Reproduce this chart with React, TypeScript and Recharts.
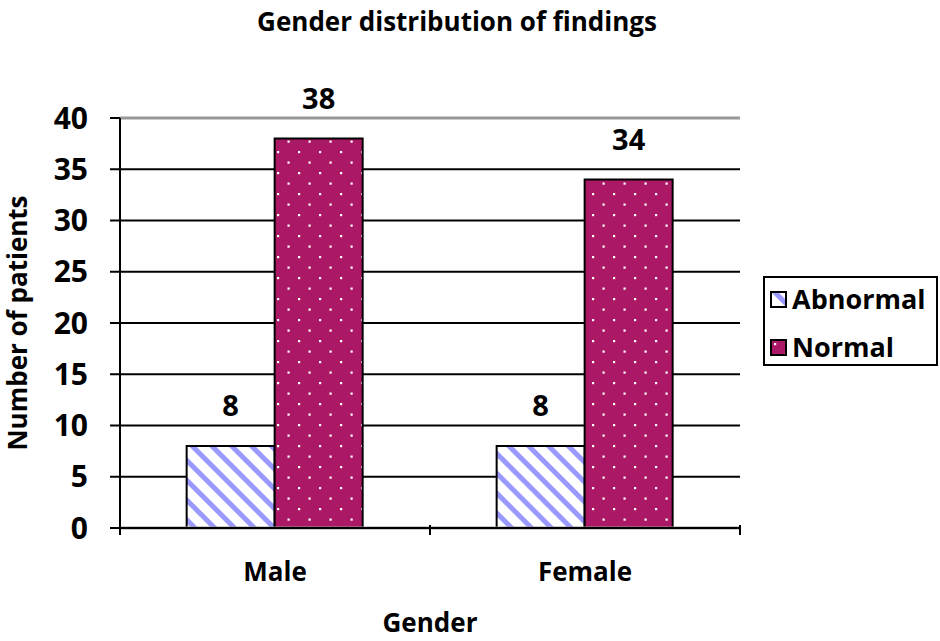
import { BarChart, Bar, XAxis, YAxis, CartesianGrid, LabelList, ReferenceLine } from 'recharts';

const genders = ['Male', 'Female'];
const abnormal = [8, 8];
const normal = [38, 34];
const yTicks = [0, 5, 10, 15, 20, 25, 30, 35, 40];

const data = genders.map((g, i) => ({ gender: g, Abnormal: abnormal[i], Normal: normal[i] }));

const FONT = '"Open Sans", sans-serif';
const PLUM = '#AB1866';
const LAVENDER = '#9999FF';

// category tick: label in the middle, tick marks on the band edges
function GenderTick(props: any) {
  const { x, y, payload } = props;
  const half = payload.offset ?? 0;
  return (
    <g>
      <line x1={x - half} x2={x - half} y1={y - 38} y2={y - 28} stroke="#000" strokeWidth={2} />
      <line x1={x + half} x2={x + half} y1={y - 38} y2={y - 28} stroke="#000" strokeWidth={2} />
      <text x={x} y={y} dy="0.71em" textAnchor="middle" fill="#000" fontSize={26} fontWeight={700} fontFamily={FONT}>
        {payload.value}
      </text>
    </g>
  );
}

function LegendBox() {
  const items = [
    { name: 'Abnormal', fill: 'url(#stripes)' },
    { name: 'Normal', fill: 'url(#dots)' },
  ];
  return (
    <div style={{ position: 'absolute', left: 763, top: 276, border: '2px solid #000', width: 175, height: 90, boxSizing: 'border-box', background: '#fff', fontFamily: FONT, fontWeight: 700, fontSize: 27 }}>
      {items.map((it, i) => (
        <div key={it.name} style={{ position: 'absolute', left: 5, top: i * 48 + 1, display: 'flex', alignItems: 'center', height: 40, lineHeight: '40px' }}>
          <svg width={17} height={17} style={{ marginRight: 5 }}>
            <rect x={1} y={1} width={15} height={15} fill={it.fill} stroke="#000" strokeWidth={2} />
          </svg>
          <span>{it.name}</span>
        </div>
      ))}
    </div>
  );
}

export default function App() {
  return (
    <div style={{ position: 'absolute', left: 0, top: 0, width: 940, height: 641, background: '#fff' }}>
      <div style={{ position: 'absolute', left: 0, width: 914, top: 3, textAlign: 'center', fontFamily: FONT, fontWeight: 700, fontSize: 26 }}>
        Gender distribution of findings
      </div>
      <BarChart width={940} height={641} data={data} margin={{ top: 118, right: 200, bottom: 0, left: 0 }} barCategoryGap="21.5%" barGap={0} style={{ fontFamily: FONT }}>
        <defs>
          <pattern id="stripes" patternUnits="userSpaceOnUse" width={14} height={14} patternTransform="rotate(-45)">
            <rect width={14} height={14} fill="#fff" />
            <rect x={0} y={0} width={5} height={14} fill={LAVENDER} />
          </pattern>
          <pattern id="dots" patternUnits="userSpaceOnUse" width={21} height={21}>
            <rect width={21} height={21} fill={PLUM} />
            <rect x={4} y={4} width={2.2} height={2.2} fill="#fff" />
            <rect x={14.5} y={14.5} width={2.2} height={2.2} fill="#fff" />
          </pattern>
        </defs>
        <CartesianGrid vertical={false} stroke="#000" strokeWidth={2} />
        <XAxis dataKey="gender" height={113} interval={0} axisLine={{ stroke: '#000', strokeWidth: 2 }} tickLine={false} tickMargin={29} tick={<GenderTick />} label={{ value: 'Gender', position: 'insideBottom', offset: 9, fill: '#000', fontSize: 26, fontWeight: 700 }} />
        <YAxis domain={[0, 40]} ticks={yTicks} width={120} interval={0} tickSize={10} tickMargin={22} axisLine={{ stroke: '#000', strokeWidth: 2 }} tickLine={{ stroke: '#000', strokeWidth: 2 }} tick={{ fill: '#000', fontSize: 30, fontWeight: 700 }} label={{ value: 'Number of patients', angle: -90, position: 'insideLeft', offset: 18, fill: '#000', fontSize: 26, fontWeight: 700, style: { textAnchor: 'middle' } }} />
        <YAxis yAxisId="right" orientation="right" domain={[0, 40]} width={0} tick={false} tickLine={false} axisLine={{ stroke: '#999', strokeWidth: 3 }} />
        <ReferenceLine y={40} stroke="#999" strokeWidth={3} />
        <ReferenceLine y={0} stroke="#999" strokeWidth={3} />
        <Bar dataKey="Abnormal" fill="url(#stripes)" stroke="#000" strokeWidth={2} isAnimationActive={false}>
          <LabelList dataKey="Abnormal" position="top" offset={30} fill="#000" fontSize={29} fontWeight={700} />
        </Bar>
        <Bar dataKey="Normal" fill="url(#dots)" stroke="#000" strokeWidth={2} isAnimationActive={false}>
          <LabelList dataKey="Normal" position="top" offset={30} fill="#000" fontSize={29} fontWeight={700} />
        </Bar>
      </BarChart>
      <LegendBox />
    </div>
  );
}
